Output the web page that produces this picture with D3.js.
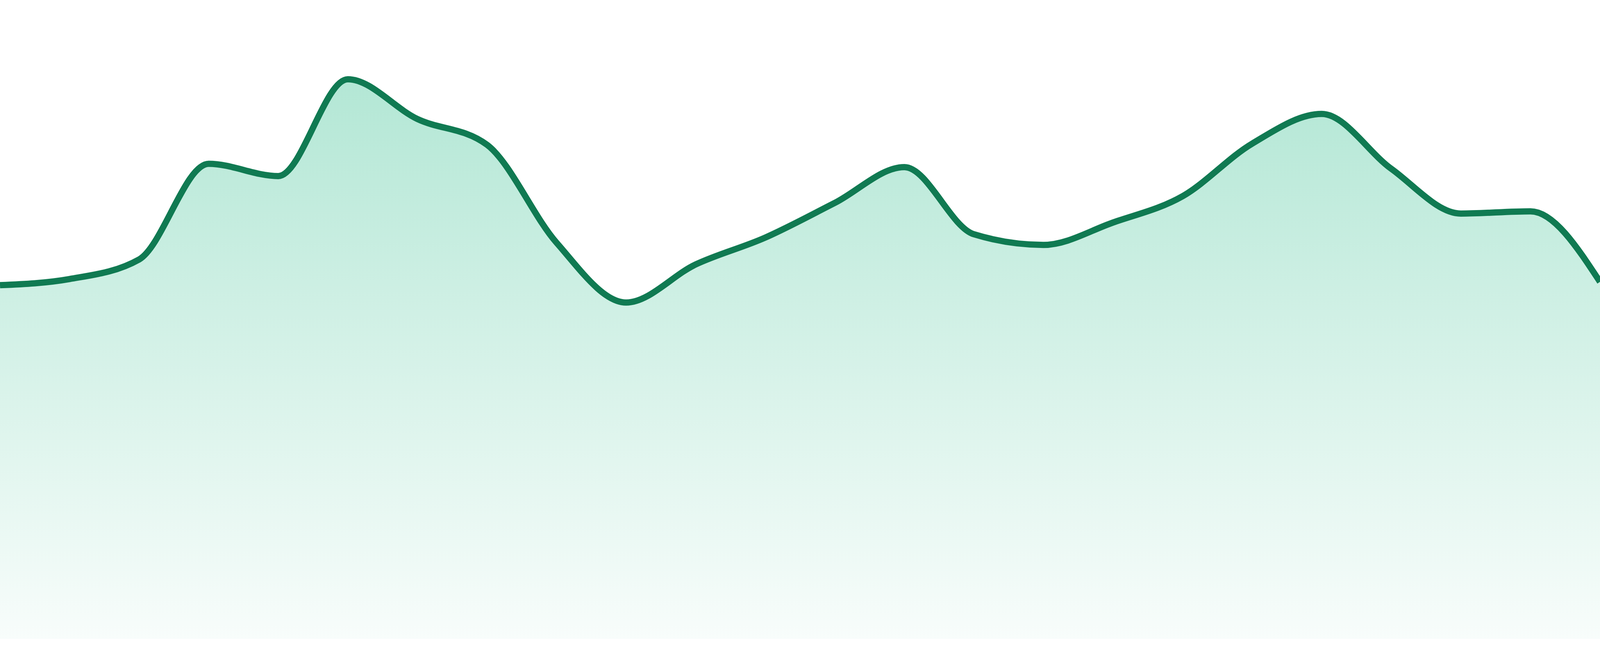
<!DOCTYPE html>
<html>
<head>
<meta charset="utf-8">
<script src="https://cdn.jsdelivr.net/npm/d3@7"></script>
<style>
  html, body { margin: 0; padding: 0; background: #fff; overflow: hidden; }
  svg { display: block; }
</style>
</head>
<body>
<div id="app"></div>
<script>
// fill the window; the reference is 4800x1680
var chartWidth = window.innerWidth || 4800,
    chartHeight = window.innerHeight || 1680,
    baseY = chartHeight * 1636 / 1680,
    peakY = chartHeight * 203 / 1680;

// 24 samples, left to right
var days = [1, 2, 3, 4, 5, 6, 7, 8, 9, 10, 11, 12,
            13, 14, 15, 16, 17, 18, 19, 20, 21, 22, 23, 24];
var values = [63.2, 64.3, 67.8, 84.9, 82.7, 100, 92.9, 88.3,
              70.8, 60.1, 66.9, 71.7, 77.9, 84.3, 72.3, 70.4,
              74.4, 79.1, 88.5, 93.8, 84.0, 76.0, 76.4, 63.8];

var x = d3.scalePoint()
          .domain(days)
          .range([0, chartWidth]);

var y = d3.scaleLinear()
          .domain([0, 100])
          .range([baseY, peakY]);

var svg = d3.select('#app').append('svg')
            .attr('width', chartWidth)
            .attr('height', chartHeight);

var grad = svg.append('defs').append('linearGradient')
              .attr('id', 'fill-gradient')
              .attr('gradientUnits', 'userSpaceOnUse')
              .attr('x1', 0).attr('y1', peakY)
              .attr('x2', 0).attr('y2', baseY);

grad.append('stop')
    .attr('offset', 0)
    .attr('stop-color', '#12b47c')
    .attr('stop-opacity', 0.32);
grad.append('stop')
    .attr('offset', 1)
    .attr('stop-color', '#12b47c')
    .attr('stop-opacity', 0.03);

var area = d3.area()
             .x(function(d, i) { return x(days[i]); })
             .y0(baseY)
             .y1(function(d) { return y(d); })
             .curve(d3.curveMonotoneX);

var line = d3.line()
             .x(function(d, i) { return x(days[i]); })
             .y(function(d) { return y(d); })
             .curve(d3.curveMonotoneX);

svg.append('path')
   .datum(values)
   .attr('d', area)
   .style('fill', 'url(#fill-gradient)');

svg.append('path')
   .datum(values)
   .attr('d', line)
   .style('fill', 'none')
   .style('stroke', '#107a52')
   .style('stroke-width', 16)
   .style('stroke-linejoin', 'round');
</script>
</body>
</html>
